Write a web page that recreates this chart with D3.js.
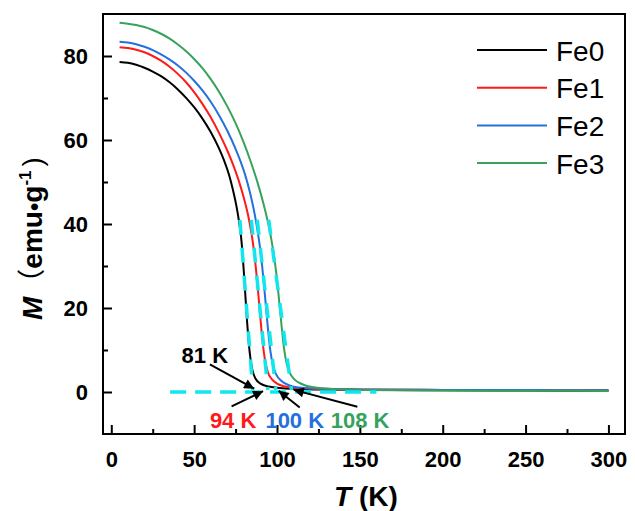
<!DOCTYPE html>
<html>
<head>
<meta charset="utf-8">
<script src="https://cdn.jsdelivr.net/npm/d3@7"></script>
<style>
  body { margin: 0; background: #fff; }
  svg { display: block; }
  text { font-family: "Liberation Sans", Arial, "Noto Sans CJK SC", sans-serif; }
</style>
</head>
<body>
<svg id="chart"></svg>
<script>
// series
const seriesNames = ['Fe0', 'Fe1', 'Fe2', 'Fe3'];
const seriesColors = ['#000000', '#ff1a1a', '#2470dc', '#36a25c'];

const fe0T = [5, 10, 15, 20, 25, 30, 35, 40, 45, 50, 55, 60, 65, 68, 71, 73.5, 75.5, 77, 78.3, 79.3, 80.5, 82, 83.5, 85, 87, 90, 95, 100, 110, 125, 150, 200, 250, 300];
const fe0M = [78.6, 78.4, 77.9, 77.2, 76.3, 75.2, 73.8, 72.1, 70.1, 67.8, 65.1, 61.9, 58.0, 55.2, 51.8, 48.0, 44.3, 40.8, 37.0, 32.5, 25.5, 16.5, 9.5, 5.5, 3.2, 2.0, 1.3, 1.0, 0.75, 0.6, 0.5, 0.4, 0.35, 0.3];

const fe1T = [5, 10, 15, 20, 25, 30, 35, 40, 45, 50, 55, 60, 65, 70, 74, 77, 80, 82.5, 84.6, 86.2, 87.5, 88.8, 90, 91.3, 92.8, 94.5, 97, 100, 105, 110, 120, 150, 200, 250, 300];
const fe1M = [82.1, 81.9, 81.5, 80.9, 80.0, 78.9, 77.5, 75.8, 73.8, 71.4, 68.6, 65.4, 61.7, 57.5, 53.6, 50.2, 46.2, 42.2, 37.8, 33.3, 28.5, 23.0, 17.5, 12.0, 7.5, 4.7, 3.0, 2.0, 1.3, 1.0, 0.8, 0.6, 0.5, 0.45, 0.4];

const fe2T = [5, 10, 15, 20, 25, 30, 35, 40, 45, 50, 55, 60, 65, 70, 75, 78, 81, 83.6, 85.8, 87.6, 89.2, 90.7, 92, 93.3, 94.6, 96, 97.6, 99.5, 102.7, 108, 115, 130, 150, 200, 250, 300];
const fe2M = [83.4, 83.2, 82.8, 82.2, 81.4, 80.4, 79.2, 77.8, 76.1, 74.1, 71.8, 69.1, 65.9, 62.2, 57.9, 54.9, 51.4, 47.6, 43.8, 40.0, 36.0, 31.3, 26.2, 20.5, 14.8, 9.8, 6.3, 4.2, 2.6, 1.5, 1.0, 0.75, 0.6, 0.5, 0.45, 0.4];

const fe3T = [5, 10, 15, 20, 25, 30, 35, 40, 45, 50, 55, 60, 65, 70, 75, 80, 84, 88, 91.6, 94.2, 96.5, 98.5, 100, 101.4, 102.8, 104.2, 105.8, 107.8, 110.5, 115, 124, 140, 170, 200, 250, 300];
const fe3M = [87.9, 87.7, 87.4, 86.9, 86.2, 85.3, 84.2, 82.8, 81.2, 79.3, 77.1, 74.5, 71.5, 68.0, 64.0, 59.3, 55.0, 50.2, 45.2, 41.0, 36.5, 31.5, 26.8, 21.3, 15.6, 10.5, 6.8, 4.5, 3.0, 1.9, 1.0, 0.6, 0.45, 0.35, 0.3, 0.25];

const seriesT = [fe0T, fe1T, fe2T, fe3T];
const seriesM = [fe0M, fe1M, fe2M, fe3M];

// axes
const xTicks = [0, 50, 100, 150, 200, 250, 300];
const xMinor = [25, 75, 125, 175, 225, 275];
const yTicks = [0, 20, 40, 60, 80];
const yMinor = [10, 30, 50, 70];

// Tc construction lines (T in K, M in emu/g)
const tangentTopT = [77.6, 84.5, 88.1, 95];
const tangentBottomT = [85.4, 94.5, 99.3, 108.7];
const tangentTopM = 41;
const tangentBottomM = 0.5;
const baseLineT = [35.5, 160];

// Tc labels and arrows, in data units
const tcLabels = ['81 K', '94 K', '100 K', '108 K'];
const tcLabelT = [42.4, 59.5, 93, 132.4];
const tcLabelM = [6.8, -8.5, -8.5, -8.5];
const arrowFromT = [59.5, 72.6, 113.7, 148.5];
const arrowFromM = [6.6, -3.4, -3.7, -3.5];
const arrowToT = [86.2, 91.6, 101, 110.1];
const arrowToM = [0.8, 0.2, 0.3, 0.5];

const W = 635;
const H = 511;
const margin = { top: 14, right: 10, bottom: 77, left: 103 };
const width = W - margin.left - margin.right;
const height = H - margin.top - margin.bottom;
const cyan = '#10e6ec';

const svg = d3.select('#chart').attr('width', W).attr('height', H);
const g = svg.append('g').attr('transform', `translate(${margin.left},${margin.top})`);

const x = d3.scaleLinear().domain([-5, 310]).range([0, width]);
const y = d3.scaleLinear().domain([-10, 90]).range([height, 0]);

svg.append('defs').append('marker')
  .attr('id', 'head')
  .attr('viewBox', '0 -5 10 10')
  .attr('refX', 10)
  .attr('markerUnits', 'userSpaceOnUse')
  .attr('markerWidth', 13)
  .attr('markerHeight', 10)
  .attr('orient', 'auto')
  .append('path')
  .attr('d', 'M0,-5L10,0L0,5Z')
  .attr('fill', '#000');

// ticks (inward)
const styleAxis = sel => {
  sel.select('.domain').remove();
  sel.selectAll('line').attr('stroke', '#000').attr('stroke-width', 2);
  sel.selectAll('text').attr('font-size', 22).attr('font-weight', 'bold').attr('fill', '#000');
};
g.append('g')
  .attr('transform', `translate(0,${height})`)
  .call(d3.axisBottom(x).tickValues(xTicks).tickSize(-9).tickPadding(17))
  .call(styleAxis);
g.append('g')
  .attr('transform', `translate(0,${height})`)
  .call(d3.axisBottom(x).tickValues(xMinor).tickSize(-5).tickFormat(''))
  .call(styleAxis);
g.append('g')
  .call(d3.axisLeft(y).tickValues(yTicks).tickSize(-9).tickPadding(15))
  .call(styleAxis);
g.append('g')
  .call(d3.axisLeft(y).tickValues(yMinor).tickSize(-5).tickFormat(''))
  .call(styleAxis);

// curves
const line = d3.line().x(d => x(d[0])).y(d => y(d[1])).curve(d3.curveMonotoneX);
g.append('g')
  .selectAll('path')
  .data(seriesNames)
  .join('path')
  .attr('d', (d, i) => line(d3.zip(seriesT[i], seriesM[i])))
  .attr('fill', 'none')
  .attr('stroke', (d, i) => seriesColors[i])
  .attr('stroke-width', 2);

// dashed construction lines
g.append('line')
  .attr('x1', x(baseLineT[0])).attr('x2', x(baseLineT[1]))
  .attr('y1', y(0)).attr('y2', y(0))
  .attr('stroke', cyan).attr('stroke-width', 3.5).attr('stroke-dasharray', '16,9');
g.append('g')
  .selectAll('line')
  .data(tangentTopT)
  .join('line')
  .attr('x1', d => x(d)).attr('y1', y(tangentTopM))
  .attr('x2', (d, i) => x(tangentBottomT[i])).attr('y2', y(tangentBottomM))
  .attr('stroke', cyan).attr('stroke-width', 3.5).attr('stroke-dasharray', '15,13');

// arrows + Tc labels
g.append('g')
  .selectAll('line')
  .data(tcLabels)
  .join('line')
  .attr('x1', (d, i) => x(arrowFromT[i])).attr('y1', (d, i) => y(arrowFromM[i]))
  .attr('x2', (d, i) => x(arrowToT[i])).attr('y2', (d, i) => y(arrowToM[i]))
  .attr('stroke', '#000').attr('stroke-width', 2)
  .attr('marker-end', 'url(#head)');
g.append('g')
  .selectAll('text')
  .data(tcLabels)
  .join('text')
  .attr('x', (d, i) => x(tcLabelT[i]))
  .attr('y', (d, i) => y(tcLabelM[i]))
  .attr('font-size', 22)
  .attr('font-weight', 'bold')
  .attr('fill', (d, i) => seriesColors[i])
  .text(d => d);

// frame
g.append('rect')
  .attr('width', width).attr('height', height)
  .attr('fill', 'none').attr('stroke', '#000').attr('stroke-width', 2);

// legend
const legend = g.append('g')
  .selectAll('g')
  .data(seriesNames)
  .join('g')
  .attr('transform', (d, i) => `translate(${width - 148},${36 + i * 37.7})`);
legend.append('line')
  .attr('x1', 0).attr('x2', 70)
  .attr('stroke', (d, i) => seriesColors[i]).attr('stroke-width', 2);
legend.append('text')
  .attr('x', 79).attr('y', 10.5)
  .attr('font-size', 28)
  .text(d => d);

// axis titles
const xt = svg.append('text')
  .attr('x', margin.left + width / 2 + 2)
  .attr('y', 506)
  .attr('text-anchor', 'middle')
  .attr('font-size', 28)
  .attr('font-weight', 'bold');
xt.append('tspan').attr('font-style', 'italic').text('T');
xt.append('tspan').text(' (K)');

const yt = svg.append('text')
  .attr('transform', 'translate(42,320) rotate(-90)')
  .attr('font-size', 28)
  .attr('font-weight', 'bold');
yt.append('tspan').attr('font-style', 'italic').text('M');
yt.append('tspan').attr('font-family', '"Noto Sans CJK SC"').attr('font-weight', 'normal').text('（');
yt.append('tspan').text('emu');
yt.append('tspan').attr('font-size', 24).text('•');
yt.append('tspan').text('g');
yt.append('tspan').attr('font-size', 17).attr('dy', -11).text('-1');
yt.append('tspan').attr('dy', 11).attr('dx', 4).attr('font-weight', 'normal').text(')');
</script>
</body>
</html>
